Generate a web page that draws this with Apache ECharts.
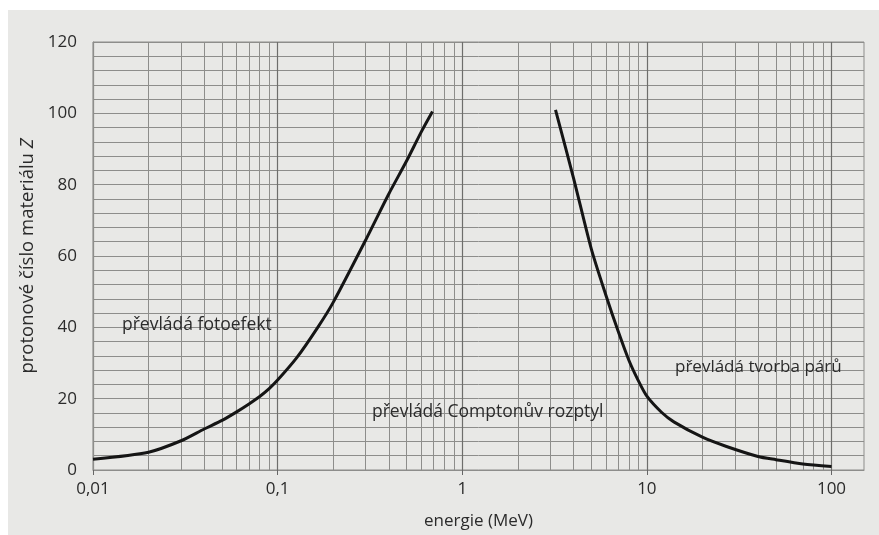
<!DOCTYPE html>
<html>
<head>
<meta charset="utf-8">
<script src="https://cdn.jsdelivr.net/npm/echarts@6/dist/echarts.min.js"></script>
<style>
  html, body { margin: 0; padding: 0; background: #fff; }
  #chart { width: 879px; height: 535px; }
</style>
</head>
<body>
<div id="chart"></div>
<script>
// energie (MeV) / protonove cislo Z
const fotoBoundary = [
  [0.01, 3], [0.02, 5], [0.03, 8.2], [0.04, 11.5], [0.05, 13.9], [0.06, 16.3],
  [0.07, 18.5], [0.08, 20.6], [0.09, 22.8], [0.1, 25.2], [0.127, 31.5], [0.165, 40],
  [0.2, 47], [0.3, 64.5], [0.4, 77.4], [0.5, 86.7], [0.6, 94.8], [0.69, 100.5]
]
const pairBoundary = [
  [3.2, 101], [4, 82], [5, 62], [6, 49], [7, 38.8], [8, 30.7], [9, 25], [10, 20.7],
  [12, 16.2], [14, 13.5], [20, 9.2], [27, 6.6], [40, 3.8], [50, 2.9], [70, 1.7], [100, 1]
]
const decadeTicks = [0.01, 0.1, 1, 10, 100]
const tickLabels = ['0,01', '0,1', '1', '10', '100']
const minorSteps = [2, 3, 4, 5, 6, 7, 8, 9]

const minorLines = []
decadeTicks.slice(0, 4).forEach(d => {
  minorSteps.forEach(m => minorLines.push({ xAxis: +(d * m).toPrecision(3) }))
})

const chart = echarts.init(document.getElementById('chart'))
const textFont = '"Open Sans", "Noto Sans", sans-serif'
const gridColor = '#8d8d8b'
const inkColor = '#2b2b2b'

chart.setOption({
  backgroundColor: '#ffffff',
  textStyle: { fontFamily: textFont },
  graphic: [
    {
      type: 'rect',
      z: -10,
      shape: { x: 8, y: 10, width: 871, height: 525 },
      style: { fill: '#e8e8e6' }
    },
    {
      type: 'text', left: 122, top: 316, z: 100,
      style: { text: 'převládá fotoefekt', fontSize: 17.5, fill: inkColor, fontFamily: textFont }
    },
    {
      type: 'text', left: 372, top: 403, z: 100,
      style: { text: 'převládá Comptonův rozptyl', fontSize: 17.5, fill: inkColor, fontFamily: textFont }
    },
    {
      type: 'text', left: 675, top: 359, z: 100,
      style: { text: 'převládá tvorba párů', fontSize: 17, fill: inkColor, fontFamily: textFont }
    }
  ],
  grid: {
    left: 93,
    right: 15,
    top: 42,
    bottom: 65,
    show: true,
    borderColor: gridColor,
    borderWidth: 1
  },
  xAxis: {
    type: 'log',
    logBase: 10,
    min: 0.01,
    max: 150,
    name: 'energie (MeV)',
    nameLocation: 'middle',
    nameGap: 43,
    nameTextStyle: { fontSize: 17, color: inkColor },
    axisLine: { show: true, lineStyle: { color: gridColor } },
    axisTick: {
      show: true,
      length: 5,
      customValues: decadeTicks,
      lineStyle: { color: '#666' }
    },
    axisLabel: {
      customValues: decadeTicks,
      fontSize: 17,
      color: inkColor,
      margin: 11,
      formatter(v) {
        const i = decadeTicks.findIndex(d => Math.abs(Math.log10(d) - Math.log10(v)) < 1e-6)
        return i >= 0 ? tickLabels[i] : ''
      }
    },
    splitLine: { show: true, lineStyle: { color: '#6e6e6c', width: 1.2 } }
  },
  yAxis: {
    type: 'value',
    min: 0,
    max: 120,
    interval: 20,
    name: 'protonové číslo materiálu {i|Z}',
    nameLocation: 'middle',
    nameGap: 42,
    nameTextStyle: {
      fontSize: 18.5,
      color: inkColor,
      rich: { i: { fontSize: 18.5, fontStyle: 'italic', color: inkColor } }
    },
    axisLine: { show: true, lineStyle: { color: gridColor } },
    axisTick: { show: false },
    axisLabel: { fontSize: 17, color: inkColor, margin: 16 },
    splitLine: { show: true, lineStyle: { color: gridColor, width: 1 } },
    minorTick: { show: false, splitNumber: 5 },
    minorSplitLine: { show: true, lineStyle: { color: gridColor, width: 1 } }
  },
  series: [
    {
      name: 'fotoefekt',
      type: 'line',
      data: fotoBoundary,
      smooth: 0.25,
      showSymbol: false,
      silent: true,
      z: 10,
      lineStyle: { color: '#151515', width: 3 },
      markLine: {
        silent: true,
        symbol: 'none',
        label: { show: false },
        animation: false,
        lineStyle: { color: gridColor, width: 1, type: 'solid' },
        data: minorLines
      }
    },
    {
      name: 'tvorba párů',
      type: 'line',
      data: pairBoundary,
      smooth: 0.25,
      showSymbol: false,
      silent: true,
      z: 10,
      lineStyle: { color: '#151515', width: 3 }
    }
  ],
  animation: false
})
</script>
</body>
</html>
